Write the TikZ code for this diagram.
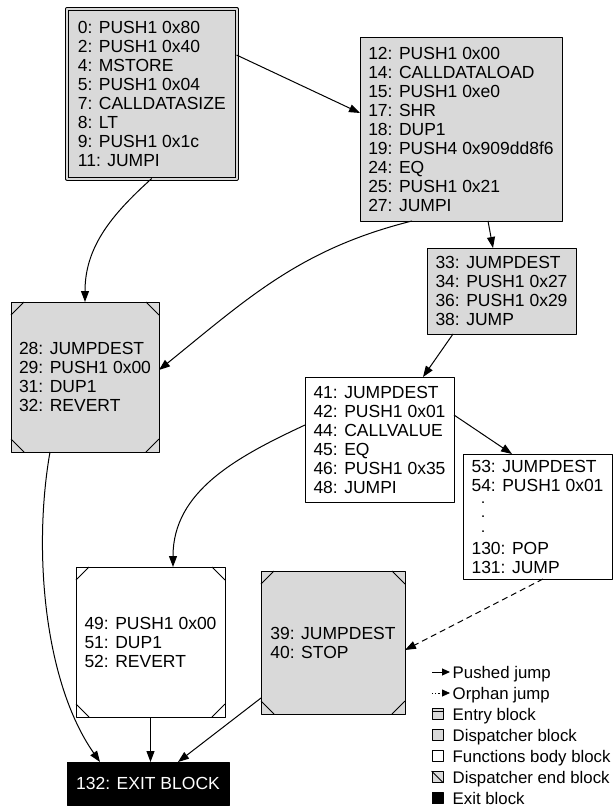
\documentclass[tikz,border=0pt]{standalone}
\usepackage{fontspec}
\setmainfont{Liberation Sans}
\usepackage{tikz}
\usetikzlibrary{arrows.meta,positioning}
\definecolor{blockgray}{RGB}{217,217,217}
\newcommand{\vdot}{\hspace*{10pt}{\fontsize{11}{19}\selectfont\bfseries .}}

\begin{document}
\begin{tikzpicture}[x=1pt,y=-1pt,join=round, % Control flow graph
        font=\fontsize{17.5}{19}\selectfont,
        block/.style={draw,line width=1pt,align=left,inner sep=0pt,outer sep=0pt},
        entry/.style={block,fill=blockgray,double=blockgray,double distance=2pt},
        dispatch/.style={block,fill=blockgray},
        body/.style={block,fill=white},
        exitblk/.style={block,fill=black,text=white},
        jump/.style={-{Triangle[length=11pt,width=8pt]},line width=1pt},
        orphan/.style={jump,dash pattern=on 6pt off 4pt},
        legsq/.style={draw,line width=0.8pt,minimum size=11pt,inner sep=0pt},
        legtext/.style={anchor=base west,inner sep=0pt,font=\fontsize{16.8}{19}\selectfont}]
    \useasboundingbox (0,0) rectangle (613,808);
         \node[entry,minimum width=169.5pt,minimum height=169.5pt] (b0) at (151.75,93.75)
                {0: PUSH1 0x80\\2: PUSH1 0x40\\4: MSTORE\\5: PUSH1 0x04\\7: CALLDATASIZE\\8: LT\\9: PUSH1 0x1c\\11: JUMPI};
         \node[dispatch,minimum width=202pt,minimum height=183pt] (b12) at (461,129.5)
                {12: PUSH1 0x00\\14: CALLDATALOAD\\15: PUSH1 0xe0\\17: SHR\\18: DUP1\\19: PUSH4 0x909dd8f6\\24: EQ\\25: PUSH1 0x21\\27: JUMPI};
         \node[dispatch,minimum width=149pt,minimum height=86pt] (b33) at (501.5,291)
                {33: JUMPDEST\\34: PUSH1 0x27\\36: PUSH1 0x29\\38: JUMP};
         \node[dispatch,minimum width=148pt,minimum height=150pt] (b28) at (85,377)
                {28: JUMPDEST\\29: PUSH1 0x00\\31: DUP1\\32: REVERT};
         \node[body,minimum width=149pt,minimum height=125pt] (b41) at (379.5,439.5)
                {41: JUMPDEST\\42: PUSH1 0x01\\44: CALLVALUE\\45: EQ\\46: PUSH1 0x35\\48: JUMPI};
         \node[body,minimum width=149pt,minimum height=125pt] (b53) at (537.5,516.5)
                {53: JUMPDEST\\54: PUSH1 0x01\\[-7pt]\vdot\\[-5pt]\vdot\\[-4pt]\vdot\\[3pt]130: POP\\131: JUMP};
         \node[body,minimum width=149pt,minimum height=150pt] (b49) at (150.5,642)
                {49: PUSH1 0x00\\51: DUP1\\52: REVERT};
         \node[dispatch,minimum width=144pt,minimum height=143pt] (b39) at (333,642.5)
                {39: JUMPDEST\\40: STOP};
         \node[exitblk,minimum width=162pt,minimum height=43pt] (exit) at (148,783.5)
                {132: EXIT BLOCK};
        % cut corners
        \foreach \n in {b28,b49,b39}
          \draw[line width=1pt]
                ([yshift=-13pt]\n.north west) -- ([xshift=13pt]\n.north west)
                ([xshift=-13pt]\n.north east) -- ([yshift=-13pt]\n.north east)
                ([yshift=13pt]\n.south west) -- ([xshift=13pt]\n.south west)
                ([xshift=-13pt]\n.south east) -- ([yshift=13pt]\n.south east);
        % jumps
         \draw[jump] ([yshift=38.75pt]b0.east) -- ([yshift=16.5pt]b12.west);
         \draw[jump] (b0.south) to[out=222,in=90] (b28.north);
         \draw[jump] ([xshift=27pt]b12.south) -- ([xshift=-8.5pt]b33.north);
         \draw[jump] ([xshift=-49pt]b12.south) to[out=194,in=39] ([yshift=7pt]b28.east);
         \draw[jump] ([xshift=-48.5pt]b33.south) -- ([xshift=43.5pt]b41.north);
         \draw[jump] ([yshift=24.5pt]b41.east) -- ([xshift=-25.5pt]b53.north);
         \draw[jump] ([yshift=14.5pt]b41.west) to[out=205,in=90] ([xshift=22.5pt]b49.north);
         \draw[orphan] ([xshift=5.5pt]b53.south) -- ([yshift=-7.5pt]b39.east);
         \draw[jump] ([xshift=-35pt]b28.south) to[out=260,in=125,looseness=0.8] ([xshift=-48pt]exit.north);
         \draw[jump] (b49.south) -- (b49.south |- exit.north);
         \draw[jump] ([yshift=-55.5pt]b39.west) -- ([xshift=30pt]exit.north);
        % legend
        \foreach \t [count=\i] in {Pushed jump,Orphan jump,Entry block,Dispatcher block,Functions body block,Dispatcher end block,Exit block}
          \node[legtext] (leg\i) at (452.5,{657+21*\i}) {\t};
        \coordinate (pj0) at (432,672);
        \coordinate (pj1) at (450,672);
        \coordinate (oj0) at (432,693);
        \coordinate (oj1) at (450,693);
         \draw[-{Triangle[length=8pt,width=7pt]},line width=1pt] (pj0) -- (pj1);
         \draw[-{Triangle[length=8pt,width=7pt]},line width=0.8pt,dash pattern=on 1.2pt off 2pt] (oj0) -- (oj1);
         \node[legsq,fill=blockgray] (ientry) at (437.5,714) {};
         \draw[line width=0.8pt] ([yshift=-3.5pt]ientry.north west) -- ([yshift=-3.5pt]ientry.north east);
         \node[legsq,fill=blockgray] (idisp) at (437.5,735) {};
         \node[legsq,fill=white] (ibody) at (437.5,756) {};
         \node[legsq,fill=blockgray] (iend) at (437.5,777) {};
         \draw[line width=0.8pt] (iend.north west) -- (iend.south east);
         \node[legsq,fill=black] (iexit) at (437.5,798) {};
\end{tikzpicture}
\end{document}
